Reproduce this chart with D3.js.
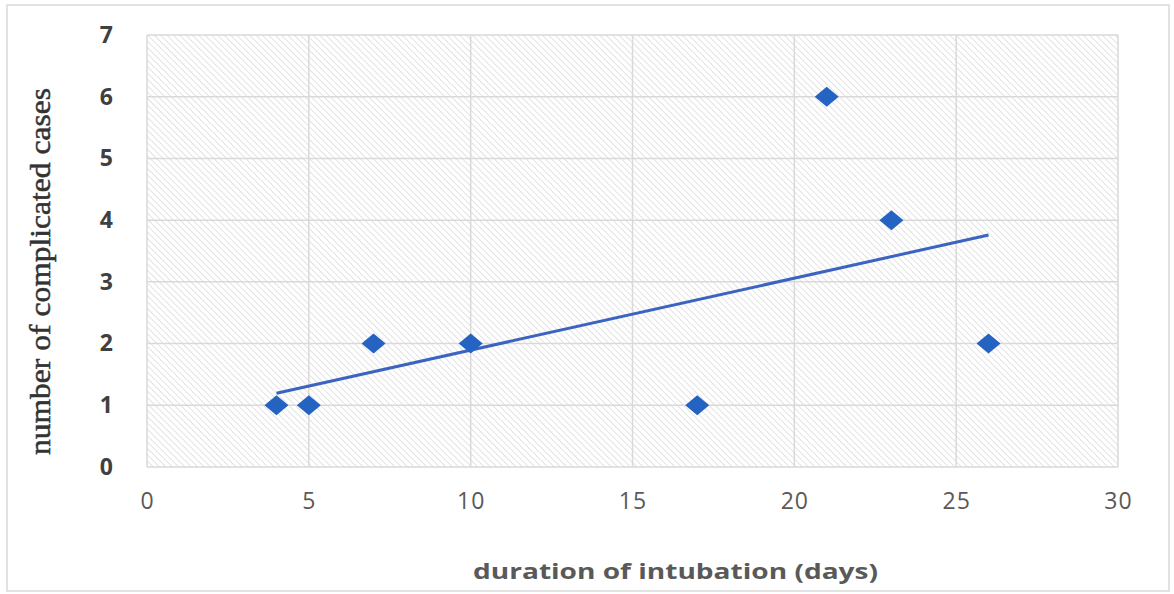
<!DOCTYPE html>
<html>
<head>
<meta charset="utf-8">
<script src="https://cdn.jsdelivr.net/npm/d3@7"></script>
<style>
  body { margin: 0; background: #fff; }
</style>
</head>
<body>
<svg id="chart"></svg>
<script>
// data
const days = [4, 5, 7, 10, 17, 21, 23, 26];
const cases = [1, 1, 2, 2, 1, 6, 4, 2];
const xTicks = [0, 5, 10, 15, 20, 25, 30];
const yTicks = [0, 1, 2, 3, 4, 5, 6, 7];

const W = 1174, H = 594;
const margin = { top: 35, right: 56, bottom: 127, left: 147 };
const width = W - margin.left - margin.right;
const height = H - margin.top - margin.bottom;

const svg = d3.select("#chart").attr("width", W).attr("height", H);

// hatch pattern for plot background
const defs = svg.append("defs");
const pat = defs.append("pattern")
  .attr("id", "hatch")
  .attr("patternUnits", "userSpaceOnUse")
  .attr("width", 4.5).attr("height", 4.5)
  .attr("patternTransform", "rotate(-45)");
pat.append("rect").attr("width", 4.5).attr("height", 4.5).attr("fill", "#fff");
pat.append("line")
  .attr("x1", 0).attr("y1", 0).attr("x2", 0).attr("y2", 4.5)
  .attr("stroke", "#d8d8d8").attr("stroke-width", 1.4);

// outer border
svg.append("rect")
  .attr("x", 7).attr("y", 5)
  .attr("width", W - 12).attr("height", H - 8)
  .attr("fill", "none").attr("stroke", "#d9d9d9").attr("stroke-width", 1.5);

const g = svg.append("g").attr("transform", `translate(${margin.left},${margin.top})`);

let x = d3.scaleLinear().domain([0, 30]).range([0, width]);
let y = d3.scaleLinear().domain([0, 7]).range([height, 0]);

g.append("rect")
  .attr("width", width).attr("height", height)
  .attr("fill", "url(#hatch)");

// gridlines
g.append("g")
  .selectAll("line")
  .data(xTicks)
  .enter().append("line")
  .attr("x1", d => x(d)).attr("x2", d => x(d))
  .attr("y1", 0).attr("y2", height)
  .attr("stroke", "#d9d9d9").attr("stroke-width", 1.5);

g.append("g")
  .selectAll("line")
  .data(yTicks)
  .enter().append("line")
  .attr("x1", 0).attr("x2", width)
  .attr("y1", d => y(d)).attr("y2", d => y(d))
  .attr("stroke", "#d9d9d9").attr("stroke-width", 1.5);

// axes (labels only)
let xAxis = g.append("g")
  .attr("transform", `translate(0,${height})`)
  .call(d3.axisBottom(x).tickValues(xTicks).tickFormat(d3.format("d")).tickSize(0).tickPadding(26));
xAxis.select(".domain").remove();
xAxis.selectAll("text")
  .attr("font-family", "'Open Sans', sans-serif")
  .attr("font-size", 23)
  .attr("letter-spacing", 1)
  .attr("fill", "#595959");

let yAxis = g.append("g")
  .call(d3.axisLeft(y).tickValues(yTicks).tickFormat(d3.format("d")).tickSize(0).tickPadding(34));
yAxis.select(".domain").remove();
yAxis.selectAll("text")
  .attr("font-family", "'Open Sans', sans-serif")
  .attr("font-size", 23)
  .attr("font-weight", "bold")
  .attr("fill", "#404040");

// linear trendline
const n = days.length;
const mx = d3.mean(days), my = d3.mean(cases);
let sxy = 0, sxx = 0;
for (let i = 0; i < n; i++) {
  sxy += (days[i] - mx) * (cases[i] - my);
  sxx += (days[i] - mx) * (days[i] - mx);
}
const slope = sxy / sxx;
const icpt = my - slope * mx;
const x0 = d3.min(days), x1 = d3.max(days);

g.append("line")
  .attr("x1", x(x0)).attr("y1", y(icpt + slope * x0))
  .attr("x2", x(x1)).attr("y2", y(icpt + slope * x1))
  .attr("stroke", "#3b64c0").attr("stroke-width", 3);

// diamond markers
g.selectAll(".pt")
  .data(days)
  .enter().append("path")
  .attr("class", "pt")
  .attr("transform", (d, i) => `translate(${x(d)},${y(cases[i])})`)
  .attr("d", "M0,-10L12,0L0,10L-12,0Z")
  .attr("fill", "#2563c2");

// axis titles
svg.append("text")
  .attr("x", 473)
  .attr("y", 579)
  .attr("font-family", "'Open Sans', sans-serif")
  .attr("font-size", 22)
  .attr("font-weight", "bold")
  .attr("textLength", 405)
  .attr("lengthAdjust", "spacingAndGlyphs")
  .attr("fill", "#595959")
  .text("duration of intubation (days)");

svg.append("text")
  .attr("transform", `translate(50,455) rotate(-90)`)
  .attr("font-family", "'Liberation Serif', serif")
  .attr("font-size", 30)
  .attr("textLength", 367)
  .attr("lengthAdjust", "spacingAndGlyphs")
  .attr("fill", "#333")
  .attr("stroke", "#333")
  .attr("stroke-width", 0.5)
  .text("number of complicated cases");
</script>
</body>
</html>
